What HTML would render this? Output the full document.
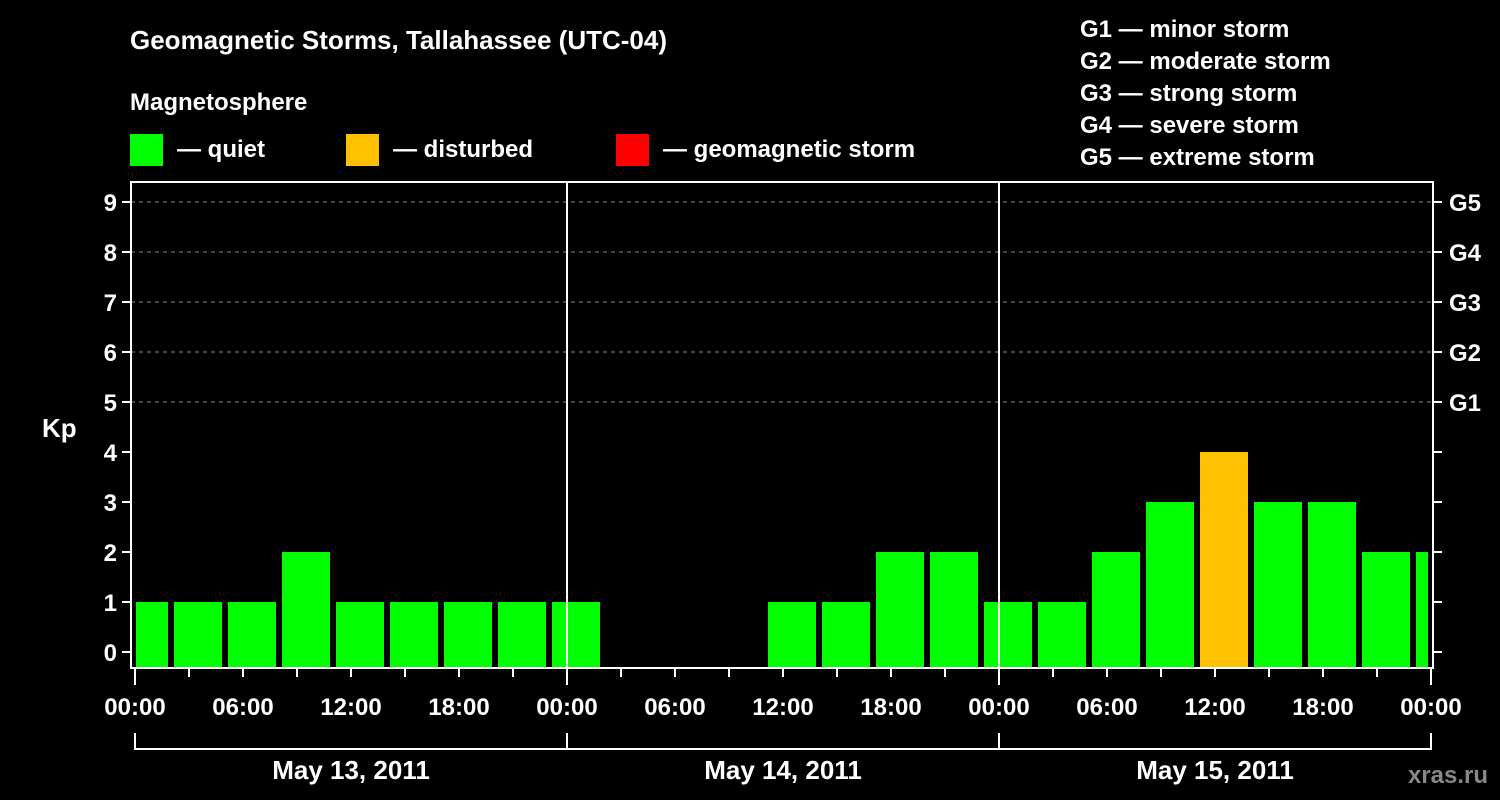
<!DOCTYPE html>
<html><head><meta charset="utf-8"><style>
html,body{margin:0;padding:0;background:#000;}
svg{display:block;font-family:"Liberation Sans",Arial,sans-serif;font-weight:bold;}
</style></head><body>
<svg id="chart" width="1500" height="800" viewBox="0 0 1500 800">
<text x="130" y="49" fill="#fff" font-size="26">Geomagnetic Storms, Tallahassee (UTC-04)</text>
<text x="130" y="110" fill="#fff" font-size="24">Magnetosphere</text>
<g><rect x="130" y="134" width="33" height="32" fill="#00ff00"/><text x="177" y="157" fill="#fff" font-size="24">— quiet</text></g>
<g><rect x="346" y="134" width="33" height="32" fill="#ffc000"/><text x="393" y="157" fill="#fff" font-size="24">— disturbed</text></g>
<g><rect x="616" y="134" width="33" height="32" fill="#ff0000"/><text x="663" y="157" fill="#fff" font-size="24">— geomagnetic storm</text></g>
<g fill="#fff" font-size="24">
<text x="1080" y="37">G1 — minor storm</text>
<text x="1080" y="69">G2 — moderate storm</text>
<text x="1080" y="101">G3 — strong storm</text>
<text x="1080" y="133">G4 — severe storm</text>
<text x="1080" y="165">G5 — extreme storm</text>
</g>
<text x="42" y="437" fill="#fff" font-size="26">Kp</text>
<text x="1488" y="783" fill="#888" font-size="24" text-anchor="end">xras.ru</text>
<g id="plot"></g>
</svg>
<script>
const kpValues=[1,1,1,2,1,1,1,1,1,null,null,null,1,1,2,2,1,1,2,3,4,3,3,2,2];
const binStartHours=-1;
const yTicks=[0,1,2,3,4,5,6,7,8,9];
const gLabels=["G1","G2","G3","G4","G5"];
const hourLabels=["00:00","06:00","12:00","18:00"];
const dayLabels=["May 13, 2011","May 14, 2011","May 15, 2011"];

const NS="http://www.w3.org/2000/svg";
const plot=document.getElementById('plot');
const X0=135,PXH=18,L=131,R=1433,T=182,B=668;
const xs=h=>X0+h*PXH;
const ys=v=>652-50*v;
function mk(tag,attrs,parent){const e=document.createElementNS(NS,tag);for(const k in attrs)e.setAttribute(k,attrs[k]);(parent||plot).appendChild(e);return e;}

// grid
yTicks.forEach(v=>{
  if(v>=5){const g=mk('line',{x1:L,x2:R,y1:ys(v),y2:ys(v),stroke:'#888','stroke-dasharray':'4,4','stroke-width':1});
  
  }
  const t=mk('line',{x1:L-9,x2:L,y1:ys(v),y2:ys(v),stroke:'#fff','stroke-width':2});
  
  
  const t2=mk('line',{x1:R,x2:R+9,y1:ys(v),y2:ys(v),stroke:'#fff','stroke-width':2});
  
  
  const lb=mk('text',{x:L-14,y:ys(v)+9,fill:'#fff','font-size':24,'text-anchor':'end'});
  lb.textContent=v;
  
  
});
gLabels.forEach((g,i)=>{
  const lb=mk('text',{x:R+16,y:ys(5+i)+9,fill:'#fff','font-size':24});
  lb.textContent=g;
  
  
});
// bars
kpValues.forEach((v,i)=>{
  if(v===null)return;
  const h0=binStartHours+i*3;
  let x1=Math.max(xs(h0)+3,L+5),x2=Math.min(xs(h0+3)-3,R-5);
  const col=v>=5?'#ff0000':(v>=4?'#ffc000':'#00ff00');
  const r=mk('rect',{x:x1,y:ys(v),width:x2-x1,height:B-ys(v),fill:col});
  
  
});
// day separators
for(let d=1;d<dayLabels.length;d++){
  const l=mk('line',{x1:xs(24*d),x2:xs(24*d),y1:T,y2:B,stroke:'#fff','stroke-width':2});
  
  
}
// frame
const fr=mk('rect',{x:L,y:T,width:R-L,height:B-T,fill:'none',stroke:'#fff','stroke-width':2});


// x ticks
const nDays=dayLabels.length;
for(let h=0;h<=24*nDays;h+=3){
  const major=h%24===0;
  const t=mk('line',{x1:xs(h),x2:xs(h),y1:B,y2:major?685:677,stroke:'#fff','stroke-width':2});
  
  
  if(h%6===0){
    const lb=mk('text',{x:xs(h),y:715,fill:'#fff','font-size':24,'text-anchor':'middle'});
    lb.textContent=hourLabels[(h%24)/6];
    
    
  }
}
// date brackets
dayLabels.forEach((d,i)=>{
  const x1=xs(24*i),x2=xs(24*(i+1));
  const p=mk('path',{d:`M${x1} 733 V749 H${x2} V733`,stroke:'#fff','stroke-width':2,fill:'none'});
  
  
  const lb=mk('text',{x:(x1+x2)/2,y:779,fill:'#fff','font-size':26,'text-anchor':'middle'});
  lb.textContent=d;
  
  
});
</script>
</body></html>
